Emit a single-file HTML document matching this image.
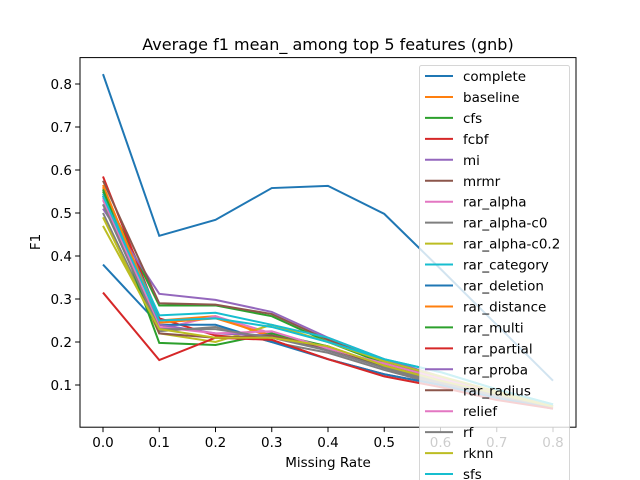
<!DOCTYPE html>
<html><head><meta charset="utf-8"><style>body{margin:0;background:#fff}svg{display:block;font-family:"DejaVu Sans","Liberation Sans",sans-serif}</style></head>
<body>
<svg id="chart" width="640" height="480" xmlns="http://www.w3.org/2000/svg"></svg>
<script>
const xValues=[0,0.1,0.2,0.3,0.4,0.5,0.6,0.7,0.8];
const xTicks=[0.0,0.1,0.2,0.3,0.4,0.5,0.6,0.7,0.8];
const yTicks=[0.1,0.2,0.3,0.4,0.5,0.6,0.7,0.8];
const seriesNames=["complete","baseline","cfs","fcbf","mi","mrmr","rar_alpha","rar_alpha-c0","rar_alpha-c0.2","rar_category","rar_deletion","rar_distance","rar_multi","rar_partial","rar_proba","rar_radius","relief","rf","rknn","sfs"];
const sComplete=[0.823,0.447,0.484,0.558,0.563,0.498,0.37,0.24,0.11];
const sBaseline=[0.56,0.25,0.26,0.21,0.19,0.14,0.10,0.07,0.05];
const sCfs=[0.55,0.285,0.285,0.26,0.2,0.15,0.11,0.075,0.05];
const sFcbf=[0.585,0.255,0.215,0.205,0.16,0.125,0.10,0.07,0.045];
const sMi=[0.51,0.312,0.298,0.27,0.21,0.16,0.12,0.08,0.05];
const sMrmr=[0.575,0.29,0.287,0.265,0.205,0.155,0.115,0.08,0.05];
const sRarAlpha=[0.53,0.23,0.26,0.22,0.18,0.14,0.105,0.075,0.05];
const sRarAlphaC0=[0.5,0.225,0.235,0.2,0.175,0.135,0.1,0.07,0.05];
const sRarAlphaC02=[0.49,0.22,0.2,0.24,0.2,0.155,0.12,0.085,0.055];
const sRarCategory=[0.545,0.262,0.268,0.24,0.21,0.16,0.13,0.09,0.055];
const sRarDeletion=[0.38,0.24,0.24,0.2,0.16,0.125,0.1,0.07,0.045];
const sRarDistance=[0.565,0.245,0.255,0.215,0.19,0.145,0.11,0.075,0.05];
const sRarMulti=[0.555,0.198,0.193,0.22,0.19,0.14,0.105,0.075,0.05];
const sRarPartial=[0.315,0.158,0.21,0.205,0.16,0.12,0.095,0.065,0.045];
const sRarProba=[0.52,0.24,0.22,0.215,0.18,0.14,0.105,0.075,0.05];
const sRarRadius=[0.54,0.22,0.21,0.215,0.185,0.145,0.11,0.075,0.05];
const sRelief=[0.535,0.235,0.22,0.225,0.185,0.15,0.115,0.08,0.05];
const sRf=[0.52,0.23,0.23,0.21,0.18,0.14,0.105,0.075,0.05];
const sRknn=[0.47,0.23,0.21,0.21,0.19,0.145,0.11,0.08,0.05];
const sSfs=[0.54,0.25,0.255,0.235,0.2,0.16,0.13,0.09,0.055];
const seriesData=[sComplete,sBaseline,sCfs,sFcbf,sMi,sMrmr,sRarAlpha,sRarAlphaC0,sRarAlphaC02,sRarCategory,sRarDeletion,sRarDistance,sRarMulti,sRarPartial,sRarProba,sRarRadius,sRelief,sRf,sRknn,sSfs];
const colors=["#1f77b4","#ff7f0e","#2ca02c","#d62728","#9467bd","#8c564b","#e377c2","#7f7f7f","#bcbd22","#17becf"];
const L=80,R=576,T=57.6,B=427.2;
const xs=v=>103+v*562.5;
const ys=v=>428-v*430;
const svg=document.getElementById('chart');
const NS="http://www.w3.org/2000/svg";
function mk(tag,attrs,parent){const e=document.createElementNS(NS,tag);for(const k in attrs)e.setAttribute(k,attrs[k]);(parent||svg).appendChild(e);return e;}
const plot=mk('g',{});


seriesData.forEach((d,i)=>{
  const p=mk('polyline',{points:d.map((v,j)=>xs(xValues[j])+','+ys(v)).join(' '),fill:'none',stroke:colors[i%10],'stroke-width':2},plot);
  
  
});
const frame=mk('rect',{x:L,y:T,width:R-L,height:B-T,fill:'none',stroke:'#000','stroke-width':1});


xTicks.forEach(t=>{
  mk('line',{x1:xs(t),x2:xs(t),y1:B,y2:B+4.9,stroke:'#000'});
  const tx=mk('text',{x:xs(t),y:B+20,'font-size':13.5,'text-anchor':'middle'});
  tx.textContent=t.toFixed(1);
  
  
});
yTicks.forEach(t=>{
  mk('line',{x1:L-4.9,x2:L,y1:ys(t),y2:ys(t),stroke:'#000'});
  const tx=mk('text',{x:L-8,y:ys(t)+5,'font-size':13.5,'text-anchor':'end'});
  tx.textContent=t.toFixed(1);
  
  
});
const title=mk('text',{x:328,y:50,'font-size':16,'text-anchor':'middle'});
title.textContent='Average f1 mean_ among top 5 features (gnb)';


const xl=mk('text',{x:328,y:467,'font-size':13.5,'text-anchor':'middle'});
xl.textContent='Missing Rate';


const yl=mk('text',{x:0,y:0,'font-size':13.5,'text-anchor':'middle',transform:'translate(40,242) rotate(-90)'});
yl.textContent='F1';


const lg=mk('g',{});


mk('rect',{x:419.5,y:65.5,width:150,height:430,rx:2,fill:'#fff','fill-opacity':0.8,stroke:'#ccc','stroke-opacity':0.8},lg);
seriesNames.forEach((n,i)=>{
  const y=76+i*20.95;
  const li=mk('line',{x1:425,x2:453,y1:y,y2:y,stroke:colors[i%10],'stroke-width':2},lg);
  
  
  const tx=mk('text',{x:463,y:y+5,'font-size':13.5},lg);
  tx.textContent=n;
  
  
});
</script>
</body></html>
